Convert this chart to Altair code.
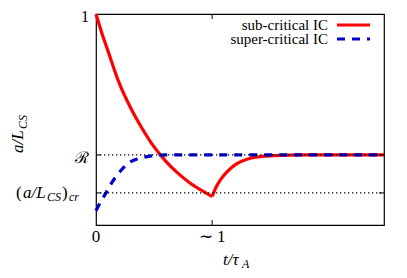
import altair as alt
import pandas as pd

# ---- data ----
R_LEVEL = 0.332
CR_LEVEL = 0.152
T_MAX = 2.48

red_t = [0, 0.05, 0.1, 0.2, 0.3, 0.4, 0.5, 0.6, 0.7, 0.8, 0.9, 1.0,
         1.03, 1.07, 1.13, 1.21, 1.3, 1.4, 1.55, 1.8, 2.1, 2.48]
red_y = [1.0, 0.91, 0.83, 0.672, 0.553, 0.455, 0.37, 0.303, 0.248, 0.203, 0.167, 0.135,
         0.175, 0.213, 0.253, 0.29, 0.312, 0.323, 0.329, 0.332, 0.332, 0.332]

blue_t = [0, 0.04, 0.086, 0.13, 0.17, 0.22, 0.29, 0.36, 0.44, 0.52, 0.62, 0.8, 1.2, 1.8, 2.48]
blue_y = [0.068, 0.11, 0.152, 0.195, 0.228, 0.262, 0.297, 0.314, 0.324, 0.33, 0.332, 0.332, 0.332, 0.332, 0.332]

legend_labels = ["sub-critical IC", "super-critical IC"]
x_tick_vals = [0, 1]
x_tick_labels = ["0", "∼ 1"]
y_tick_vals = [1.0, R_LEVEL]
y_tick_labels = ["1", "ℛ"]

FONT = "Liberation Serif"
W, H = 288, 211
RED = "#ff0000"
BLUE = "#0000cc"

red_df = pd.DataFrame({"t": red_t, "a": red_y})
kmin = red_y.index(min(red_y))
red_down = red_df.iloc[:kmin + 1]
red_up = red_df.iloc[kmin:]
blue_df = pd.DataFrame({"t": blue_t, "a": blue_y})
ref_df = pd.DataFrame({"a": [R_LEVEL, CR_LEVEL]})
xt_df = pd.DataFrame({"t": x_tick_vals, "lab": x_tick_labels})
yt_df = pd.DataFrame({"a": y_tick_vals, "lab": y_tick_labels})
cr_df = pd.DataFrame({"a": [CR_LEVEL]})
one_df = pd.DataFrame({"k": [0]})

xs = alt.Scale(domain=[0, T_MAX], nice=False, zero=False)
ys = alt.Scale(domain=[0, 1], nice=False, zero=False)
X = alt.X("t:Q", scale=xs, axis=None)
Y = alt.Y("a:Q", scale=ys, axis=None)

red1 = alt.Chart(red_down).mark_line(color=RED, strokeWidth=3.2, interpolate="monotone").encode(x=X, y=Y)
red2 = alt.Chart(red_up).mark_line(color=RED, strokeWidth=3.2, interpolate="monotone").encode(x=X, y=Y)
blue = alt.Chart(blue_df).mark_line(color=BLUE, strokeWidth=3.2, strokeDash=[8, 7],
                                    interpolate="monotone").encode(x=X, y=Y)

refs = alt.Chart(ref_df).mark_rule(color="black", strokeWidth=1.3, strokeDash=[1.3, 2.7]).encode(
    y=Y, x=alt.value(0), x2=alt.value(W))

ltick = alt.Chart(ref_df).mark_rule(color="black", strokeWidth=1).encode(y=Y, x=alt.value(0), x2=alt.value(5))
rtick = alt.Chart(ref_df).mark_rule(color="black", strokeWidth=1).encode(y=Y, x=alt.value(W - 5), x2=alt.value(W))
xt_only = xt_df[xt_df.t > 0]
btick = alt.Chart(xt_only).mark_rule(color="black", strokeWidth=1).encode(x=X, y=alt.value(H), y2=alt.value(H - 5))
ttick = alt.Chart(xt_only).mark_rule(color="black", strokeWidth=1).encode(x=X, y=alt.value(0), y2=alt.value(5))

xlabels = alt.Chart(xt_df).mark_text(font=FONT, fontSize=17, baseline="middle", align="center").encode(
    x=X, y=alt.value(H + 12), text="lab:N")
ylabels = alt.Chart(yt_df).mark_text(font=FONT, fontSize=16, baseline="middle", align="right", dy=3).encode(
    y=Y, x=alt.value(-7), text="lab:N")

# (a/L_CS)_cr label pieces
def piece(txt, xpx, size, dy, italic=True):
    return alt.Chart(cr_df).mark_text(font=FONT, fontSize=size, fontStyle="italic" if italic else "normal",
                                      align="left", baseline="alphabetic", dy=dy, text=txt).encode(
        y=Y, x=alt.value(xpx))

cr_label = (piece("(", -80, 17, 5, False) + piece("a/L", -73, 17, 5) + piece("CS", -49, 12, 8)
            + piece(")", -34, 17, 5, False) + piece("cr", -27, 12, 8))

# y-axis title a/L_CS (rotated)
def vpiece(txt, xpx, ypx, size):
    return alt.Chart(one_df).mark_text(font=FONT, fontSize=size, fontStyle="italic", angle=270,
                                       align="left", baseline="alphabetic", text=txt).encode(
        x=alt.value(xpx), y=alt.value(ypx))

ytitle = vpiece("a/L", -73, 139, 17) + vpiece("CS", -69, 115, 12)

# x-axis title t/tau_A
def hpiece(txt, xpx, ypx, size):
    return alt.Chart(one_df).mark_text(font=FONT, fontSize=size, fontStyle="italic",
                                       align="left", baseline="alphabetic", text=txt).encode(
        x=alt.value(xpx), y=alt.value(ypx))

xtitle = hpiece("t/τ", 127, H + 40, 17) + hpiece("A", 146, H + 43, 12)

# legend
def leg_text(label, ypx):
    return alt.Chart(one_df).mark_text(font=FONT, fontSize=15, align="right", baseline="middle",
                                       text=label).encode(x=alt.value(232), y=alt.value(ypx))

leg_red = alt.Chart(one_df).mark_rule(color=RED, strokeWidth=3.2).encode(
    x=alt.value(241), x2=alt.value(274), y=alt.value(11))
leg_blue = alt.Chart(one_df).mark_rule(color=BLUE, strokeWidth=3.2, strokeDash=[8, 7]).encode(
    x=alt.value(241), x2=alt.value(274), y=alt.value(25))

chart = alt.layer(
    red1, red2, blue, refs, ltick, rtick, btick, ttick, xlabels, ylabels, cr_label, ytitle, xtitle,
    leg_text(legend_labels[0], 11), leg_text(legend_labels[1], 25), leg_red, leg_blue
).properties(
    width=W, height=H,
    autosize=alt.AutoSizeParams(type="none"),
    padding={"left": 88, "top": 6, "right": 15, "bottom": 45},
).configure_view(stroke="black", strokeWidth=1.2)

chart.save("out.html", embed_options={"renderer": "svg", "actions": False})
